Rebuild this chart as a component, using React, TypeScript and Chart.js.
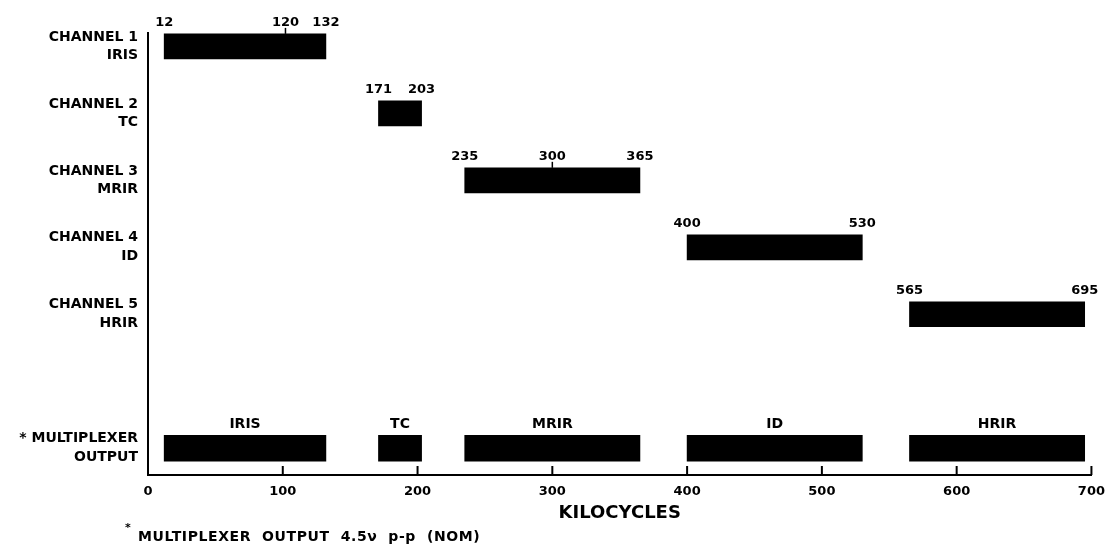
import React, { useEffect, useRef } from 'react';
import { Chart, registerables } from 'chart.js';

Chart.register(...registerables);

// ---- data ----
const channelLabels: string[][] = [
  ['CHANNEL 1', 'IRIS'],
  ['CHANNEL 2', 'TC'],
  ['CHANNEL 3', 'MRIR'],
  ['CHANNEL 4', 'ID'],
  ['CHANNEL 5', 'HRIR'],
];
const multiplexerLabel: string[] = ['* MULTIPLEXER', 'OUTPUT'];
const channelRows: number[] = [0, 1, 2, 3, 4];
const multiplexerRow = 6;
const bandStart: number[] = [12, 171, 235, 400, 565];
const bandEnd: number[] = [132, 203, 365, 530, 695];
const bandNames: string[] = ['IRIS', 'TC', 'MRIR', 'ID', 'HRIR'];
// inner marks drawn inside bars: printed text and where the mark sits on the axis
const markText: string[][] = [['120'], [], ['300'], [], []];
const markAt: number[][] = [[102], [], [300], [], []];
const xTicks: number[] = [0, 100, 200, 300, 400, 500, 600, 700];
const xTitle = 'KILOCYCLES';
const footnote = 'MULTIPLEXER  OUTPUT  4.5\u03BD  p-p  (NOM)';

const FONT = '"DejaVu Sans", "Liberation Sans", sans-serif';

const yTickValues = [...channelRows, multiplexerRow];
const yLabelFor = (v: number): string[] | string => {
  const i = channelRows.indexOf(v);
  if (i >= 0) return channelLabels[i];
  if (v === multiplexerRow) return multiplexerLabel;
  return '';
};

const annotatePlugin = {
  id: 'annotate',
  afterDatasetsDraw(chart: any) {
    const ctx: CanvasRenderingContext2D = chart.ctx;
    const xs = chart.scales.x;
    const area = chart.chartArea;
    ctx.save();
    ctx.fillStyle = '#000';
    ctx.strokeStyle = '#000';
    ctx.textAlign = 'center';
    ctx.textBaseline = 'alphabetic';

    // value labels above channel bars
    ctx.font = `bold 13px ${FONT}`;
    chart.getDatasetMeta(0).data.forEach((bar: any, i: number) => {
      const top = bar.y - bar.height / 2;
      ctx.fillText(String(bandStart[i]), xs.getPixelForValue(bandStart[i]), top - 8);
      ctx.fillText(String(bandEnd[i]), xs.getPixelForValue(bandEnd[i]), top - 8);
      markAt[i].forEach((v, k) => {
        const px = xs.getPixelForValue(v);
        ctx.fillText(markText[i][k], px, top - 8);
        ctx.lineWidth = 1.5;
        ctx.beginPath();
        ctx.moveTo(px, top - 6);
        ctx.lineTo(px, top);
        ctx.stroke();
      });
    });

    // names above multiplexer bars
    ctx.font = `bold 14px ${FONT}`;
    chart.getDatasetMeta(1).data.forEach((bar: any, i: number) => {
      const top = bar.y - bar.height / 2;
      ctx.fillText(bandNames[i], (bar.x + bar.base) / 2, top - 7);
    });

    // inward ticks on the x axis
    ctx.lineWidth = 2;
    xTicks.forEach((v) => {
      if (v === 0) return;
      const px = xs.getPixelForValue(v);
      ctx.beginPath();
      ctx.moveTo(px, area.bottom);
      ctx.lineTo(px, area.bottom - 9);
      ctx.stroke();
    });

    // footnote
    ctx.textAlign = 'left';
    ctx.font = `bold 11px ${FONT}`;
    ctx.fillText('*', 125, 531);
    ctx.font = `bold 14px ${FONT}`;
    (ctx as any).letterSpacing = '0.6px';
    ctx.fillText(footnote, 138, 541);
    ctx.restore();
  },
};

export default function App() {
  const ref = useRef<HTMLCanvasElement>(null);

  useEffect(() => {
    document.body.style.margin = '0';
    const canvas = ref.current;
    if (!canvas) return;
    const chart = new Chart(canvas, {
      type: 'bar',
      data: {
        datasets: [
          {
            label: 'Channels',
            data: channelRows.map((row, i) => ({ x: [bandStart[i], bandEnd[i]], y: row })) as any,
            backgroundColor: '#000',
            borderWidth: 0,
            barThickness: 25,
            grouped: false,
          } as any,
          {
            label: 'Multiplexer output',
            data: bandStart.map((s, i) => ({ x: [s, bandEnd[i]], y: multiplexerRow })) as any,
            backgroundColor: '#000',
            borderWidth: 0,
            barThickness: 26,
            grouped: false,
          } as any,
        ],
      },
      options: {
        indexAxis: 'y',
        responsive: false,
        animation: false,
        devicePixelRatio: 1,
        layout: { padding: { top: 33, right: 21, bottom: 0, left: 0 } },
        plugins: {
          legend: { display: false },
          tooltip: { enabled: false },
        },
        scales: {
          x: {
            type: 'linear',
            min: 0,
            max: 700,
            offset: false,
            grid: { display: false, drawTicks: false },
            border: { display: true, color: '#000', width: 2 },
            ticks: {
              stepSize: 100,
              color: '#000',
              padding: 9,
              maxRotation: 0,
              autoSkip: false,
              font: { family: FONT, size: 13, weight: 'bold' },
            },
            afterBuildTicks: (scale: any) => {
              scale.ticks = xTicks.map((v) => ({ value: v }));
            },
            title: {
              display: true,
              text: xTitle,
              color: '#000',
              font: { family: FONT, size: 18, weight: 'bold' },
              padding: { top: 4, bottom: 25 },
            },
            afterFit: (scale: any) => {
              scale.height = 74;
            },
          },
          y: {
            type: 'linear',
            reverse: true,
            min: -0.2,
            max: 6.4,
            offset: false,
            grid: { display: false, drawTicks: false },
            border: { display: true, color: '#000', width: 2 },
            afterBuildTicks: (scale: any) => {
              scale.ticks = yTickValues.map((v) => ({ value: v }));
            },
            ticks: {
              color: '#000',
              padding: 10,
              autoSkip: false,
              font: { family: FONT, size: 14, weight: 'bold', lineHeight: 1.35 },
              callback: (v: any) => yLabelFor(Number(v)),
            },
            afterFit: (scale: any) => {
              scale.width = 148;
            },
          },
        },
      } as any,
      plugins: [annotatePlugin],
    });
    return () => chart.destroy();
  }, []);

  return (
    <div style={{ width: 1114, height: 549, background: '#fff' }}>
      <canvas ref={ref} width={1114} height={549} style={{ display: 'block' }} />
    </div>
  );
}
